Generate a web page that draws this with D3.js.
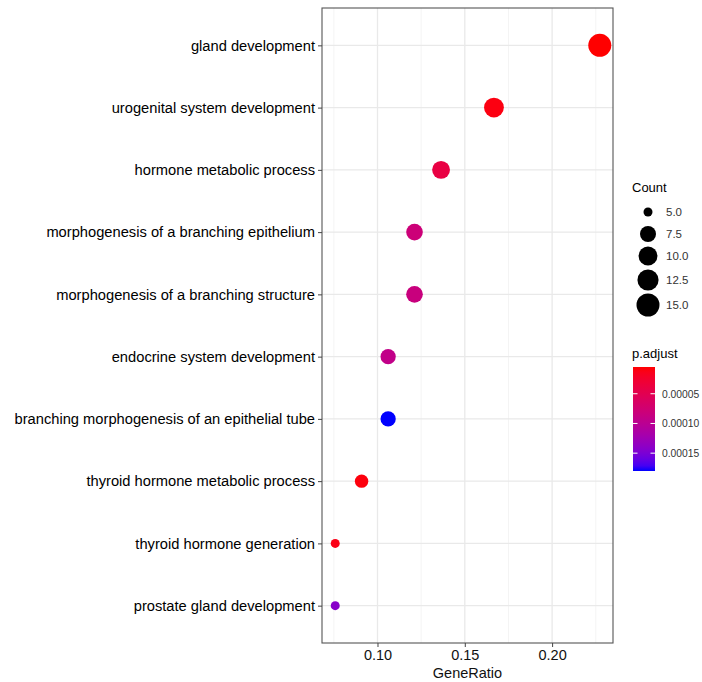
<!DOCTYPE html>
<html><head><meta charset="utf-8">
<script src="https://cdn.jsdelivr.net/npm/d3@7"></script>
<style>html,body{margin:0;padding:0;background:#fff;}svg{display:block;}</style>
</head><body>
<svg id="chart" width="702" height="682"></svg>
<script>
const categories = [
  "gland development",
  "urogenital system development",
  "hormone metabolic process",
  "morphogenesis of a branching epithelium",
  "morphogenesis of a branching structure",
  "endocrine system development",
  "branching morphogenesis of an epithelial tube",
  "thyroid hormone metabolic process",
  "thyroid hormone generation",
  "prostate gland development"
];
const geneRatio = [0.2273, 0.1667, 0.1364, 0.1212, 0.1212, 0.1061, 0.1061, 0.0909, 0.0758, 0.0758];
const counts = [15, 11, 9, 8, 8, 7, 7, 6, 5, 5];
const pAdjust = [5e-6, 1.0e-5, 4.0e-5, 8.0e-5, 8.4e-5, 9.25e-5, 1.8e-4, 8.5e-6, 1.2e-5, 1.415e-4];
const xTicks = [0.10, 0.15, 0.20];
const xMinorTicks = [0.075, 0.125, 0.175, 0.225];
const sizeBreaks = [5.0, 7.5, 10.0, 12.5, 15.0];
const colorBreaks = [0.00005, 0.00010, 0.00015];

const svg = d3.select("#chart");
const font = "'Liberation Sans', Arial, sans-serif";
const panel = {l: 322, r: 613, t: 8, b: 643};

const xExt = d3.extent(geneRatio);
const xPad = (xExt[1] - xExt[0]) * 0.05;
const x = d3.scaleLinear().domain([xExt[0] - xPad, xExt[1] + xPad]).range([panel.l, panel.r]);
const y = d3.scalePoint().domain(categories).range([panel.t, panel.b]).padding(0.6);

const cExt = d3.extent(pAdjust);
const color = d3.scaleLinear().domain(cExt).range(["red", "blue"]).interpolate(d3.interpolateLab);
const cntExt = d3.extent(counts);
const dmin = 9, dmax = 23;
const size = v => dmin + Math.sqrt((v - cntExt[0]) / (cntExt[1] - cntExt[0])) * (dmax - dmin);

// grid
const g = svg.append("g");
g.selectAll(".minor").data(xMinorTicks).join("line")
  .attr("x1", d => x(d)).attr("x2", d => x(d)).attr("y1", panel.t).attr("y2", panel.b)
  .attr("stroke", "#f1f1f1").attr("stroke-width", 0.8);
g.selectAll(".majx").data(xTicks).join("line")
  .attr("x1", d => x(d)).attr("x2", d => x(d)).attr("y1", panel.t).attr("y2", panel.b)
  .attr("stroke", "#e9e9e9").attr("stroke-width", 1.3);
g.selectAll(".majy").data(categories).join("line")
  .attr("x1", panel.l).attr("x2", panel.r).attr("y1", d => y(d)).attr("y2", d => y(d))
  .attr("stroke", "#e9e9e9").attr("stroke-width", 1.3);

// points
svg.append("g").selectAll("circle").data(categories).join("circle")
  .attr("cx", (d, i) => x(geneRatio[i]))
  .attr("cy", d => y(d))
  .attr("r", (d, i) => size(counts[i]) / 2)
  .attr("fill", (d, i) => color(pAdjust[i]));

// border
svg.append("rect").attr("x", panel.l).attr("y", panel.t)
  .attr("width", panel.r - panel.l).attr("height", panel.b - panel.t)
  .attr("fill", "none").attr("stroke", "#555").attr("stroke-width", 1.1);

// axes
const xAxis = svg.append("g").attr("transform", `translate(0,${panel.b})`)
  .call(d3.axisBottom(x).tickValues(xTicks).tickFormat(d3.format(".2f")).tickSize(4).tickPadding(3));
const yAxis = svg.append("g").attr("transform", `translate(${panel.l},0)`)
  .call(d3.axisLeft(y).tickSize(4).tickPadding(3));
[xAxis, yAxis].forEach(a => {
  a.select(".domain").remove();
  a.selectAll(".tick line").attr("stroke", "#444");
  a.selectAll(".tick text").attr("fill", "#111").style("font-family", font).style("font-size", "14.5px");
});
yAxis.selectAll(".tick text").attr("fill", "#000").style("font-size", "14.7px");

svg.append("text").attr("x", (panel.l + panel.r) / 2).attr("y", 678)
  .attr("text-anchor", "middle").style("font-family", font).style("font-size", "14.5px")
  .attr("fill", "#111").text("GeneRatio");

// size legend
const lg = svg.append("g");
lg.append("text").attr("x", 632).attr("y", 192).style("font-family", font).style("font-size", "13px").text("Count");
const sizeY = [212, 234, 256, 280, 305];
sizeBreaks.forEach((v, i) => {
  lg.append("circle").attr("cx", 648).attr("cy", sizeY[i]).attr("r", size(v) / 2).attr("fill", "#000");
  lg.append("text").attr("x", 666).attr("y", sizeY[i] + 4).style("font-family", font).style("font-size", "11.5px")
    .attr("fill", "#333").text(d3.format(".1f")(v));
});

// color legend
lg.append("text").attr("x", 632).attr("y", 358).style("font-family", font).style("font-size", "13px").text("p.adjust");
const bar = {x: 633, y: 367, w: 22, h: 104};
const defs = svg.append("defs");
const grad = defs.append("linearGradient").attr("id", "pgrad").attr("x1", 0).attr("x2", 0).attr("y1", 0).attr("y2", 1);
d3.range(0, 1.0001, 0.05).forEach(t => {
  grad.append("stop").attr("offset", t).attr("stop-color", color(cExt[0] + t * (cExt[1] - cExt[0])));
});
lg.append("rect").attr("x", bar.x).attr("y", bar.y).attr("width", bar.w).attr("height", bar.h).attr("fill", "url(#pgrad)");
const cy = d3.scaleLinear().domain(cExt).range([bar.y, bar.y + bar.h]);
colorBreaks.forEach(v => {
  lg.append("line").attr("x1", bar.x).attr("x2", bar.x + 4.5).attr("y1", cy(v)).attr("y2", cy(v)).attr("stroke", "#fff").attr("stroke-width", 1);
  lg.append("line").attr("x1", bar.x + bar.w - 4.5).attr("x2", bar.x + bar.w).attr("y1", cy(v)).attr("y2", cy(v)).attr("stroke", "#fff").attr("stroke-width", 1);
  lg.append("text").attr("x", 662).attr("y", cy(v) + 4).style("font-family", font).style("font-size", "10.3px")
    .attr("fill", "#333").text(d3.format(".5f")(v));
});
</script>
</body></html>
